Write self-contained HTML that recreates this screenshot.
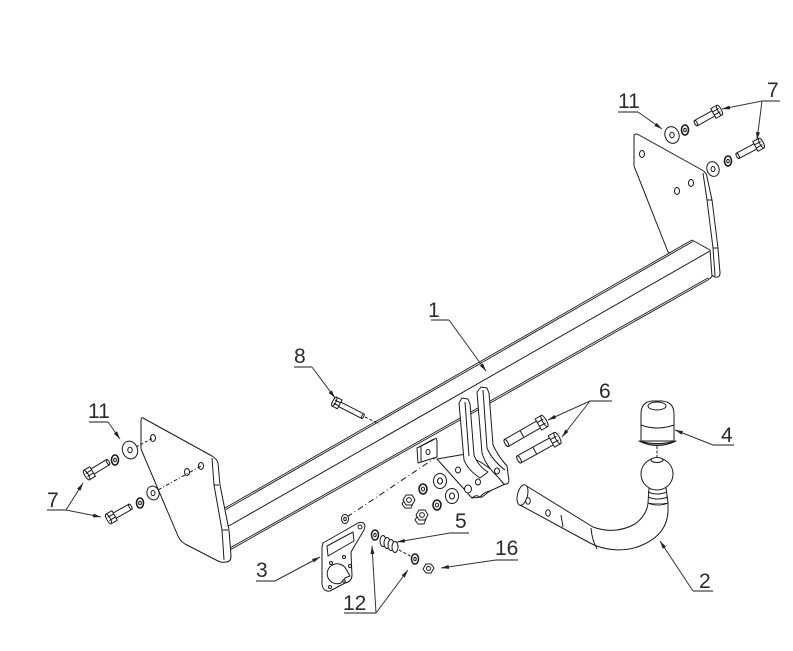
<!DOCTYPE html>
<html><head><meta charset="utf-8">
<style>
html,body{margin:0;padding:0;background:#fff;}
svg{display:block;}
text{font-family:"Liberation Sans",Arial,sans-serif;font-size:21px;fill:#2a2a2a;}
</style></head><body>
<svg width="793" height="651" viewBox="0 0 793 651" xmlns="http://www.w3.org/2000/svg">
<defs>
<marker id="a" markerWidth="8" markerHeight="6" refX="8" refY="3" orient="auto" markerUnits="userSpaceOnUse"><path d="M0,1 L8,3 L0,5 z" fill="#222"/></marker>
</defs>
<rect width="793" height="651" fill="#fff"/>

<g fill="#fff" stroke="#1a1a1a" stroke-width="1" stroke-linejoin="round">
<!-- right bracket -->
<path d="M634,135 Q636,133 639,135 L702,170 Q707,173 707,177 L712,200 L718,248 L720,273 Q720,278 715,277 L668,252 L634,166 Z"/>
<path d="M703,173 L707,200 L713,248 L715,276" fill="none"/>
<path d="M707,200 L712,200 M713,248 L718,248" fill="none"/>
<ellipse cx="642" cy="154" rx="2.5" ry="3.5"/>
<ellipse cx="677" cy="191" rx="2.5" ry="3.5"/>
<ellipse cx="691" cy="183" rx="2.5" ry="3.5"/>

<!-- beam -->
<path d="M225,508 L692,240 L710,250 L712,276 Q711,279 708,279 L230,549 Z" stroke="none"/>
<path d="M225,508 L692,240" fill="none" stroke-width="0.9"/>
<path d="M225.8,509.5 L692.8,241.5" fill="none" stroke-width="0.9"/>
<path d="M227,527 L710,251" fill="none"/>
<path d="M230,548 L708,278" fill="none" stroke-width="0.9"/>
<path d="M230.8,549.5 L708.8,279.5" fill="none" stroke-width="0.9"/>
<path d="M692,240 L710,250 L712,276 Q711,279 708,279" fill="none"/>

<!-- left bracket -->
<path d="M143,418 L212,456 Q217,459 218,463 L220,485 L229,530 L231,556 Q231,562 226,562 Q222,563 218,561 L185,544 Q180,541 178,536 L141,449 L141,421 Q141,417 143,418 Z"/>
<path d="M212,458 L214,485 L222,530 L224,560" fill="none"/>
<path d="M214,485 L219,485 M222,530 L228,530" fill="none"/>
<ellipse cx="153" cy="438" rx="2.5" ry="3.5"/>
<ellipse cx="187" cy="472" rx="2.5" ry="3.5"/>
<ellipse cx="201" cy="466" rx="2.5" ry="3.5"/>

<!-- ball mount flange and fingers -->
<path d="M437,459 L466,454 L482,463 L499,475 L505,484 L490,491 L482,497 L472,498 Z"/>
<path d="M459,403 L462,398 L468,399 L470,404 L474,455 Q478,466 488,472 L480,478 Q468,470 464,460 Z"/>
<path d="M465,402 L469,456" fill="none"/>
<path d="M477,392 L481,387 L487,388 L489,393 L493,445 Q498,456 507,466 L509,481 Q508,485 504,484 L497,476 Q486,466 482,453 Z"/>
<path d="M483,390 L487,448 Q492,460 505,470" fill="none"/>
<ellipse cx="458" cy="470" rx="2.5" ry="3"/>
<ellipse cx="478" cy="482" rx="2.5" ry="3"/>
<ellipse cx="468" cy="489" rx="3.5" ry="4"/>
<ellipse cx="497" cy="471" rx="2.5" ry="3"/>
<path d="M472,498 Q476,494 480,497 Q484,492 490,491" fill="none"/>

<!-- small socket bracket -->
<path d="M417,448 L433,440 L436,438 L437,441 L437,457 L418,463 Z"/>
<path d="M421,446 L421,462 M421,446 L434,439" fill="none"/>
<ellipse cx="428" cy="452" rx="2" ry="2.5"/>

<!-- bolts 6 -->
<g transform="translate(541,423) rotate(150)">
<rect x="2" y="-4" width="38" height="8"/><ellipse cx="40" cy="0" rx="1.5" ry="4"/><path d="M22,-4 L22,4" fill="none"/>
<rect x="-4" y="-6.5" width="7" height="13"/><ellipse cx="-4" cy="0" rx="2" ry="6.5"/><path d="M-4,-2.2 L3,-2.2 M-4,2.2 L3,2.2" fill="none"/>
</g>
<g transform="translate(554,440) rotate(151)">
<rect x="2" y="-4" width="38" height="8"/><ellipse cx="40" cy="0" rx="1.5" ry="4"/><path d="M22,-4 L22,4" fill="none"/>
<rect x="-4" y="-6.5" width="7" height="13"/><ellipse cx="-4" cy="0" rx="2" ry="6.5"/><path d="M-4,-2.2 L3,-2.2 M-4,2.2 L3,2.2" fill="none"/>
</g>

<!-- bolt 8 -->
<g transform="translate(337,403) rotate(27)">
<rect x="2" y="-2.5" width="27" height="5"/><ellipse cx="29" cy="0" rx="1" ry="2.5"/>
<rect x="-3" y="-5" width="6" height="10"/><ellipse cx="-3" cy="0" rx="1.6" ry="5"/><path d="M-3,-1.7 L3,-1.7 M-3,1.7 L3,1.7" fill="none"/>
</g>
<path d="M365,417 L379,424" fill="none" stroke-dasharray="3,2"/>

<!-- nuts and washers for ball mount -->
<polygon points="404,503 407,498 413,498 415,502 413,507 407,507" transform="translate(-2,1)"/>
<polygon points="403,500 406,495 412,495 415,500 412,505 406,505"/>
<circle cx="409" cy="500" r="2.4"/>
<ellipse cx="423" cy="489" rx="4" ry="5" stroke-width="1.6"/><ellipse cx="423" cy="489" rx="1.5" ry="2"/>
<ellipse cx="440" cy="481" rx="6.5" ry="7.5"/><ellipse cx="440" cy="481" rx="2.5" ry="3"/>
<polygon points="417,519 420,514 426,514 428,518 426,523 420,523" transform="translate(-2,1)"/>
<polygon points="416,515 419,510 425,510 428,515 425,520 419,520"/>
<circle cx="422" cy="515" r="2.4"/>
<ellipse cx="437" cy="505" rx="4" ry="5" stroke-width="1.6"/><ellipse cx="437" cy="505" rx="1.5" ry="2"/>
<ellipse cx="452" cy="496" rx="6.5" ry="7.5"/><ellipse cx="452" cy="496" rx="2.5" ry="3"/>
<path d="M347,517 L435,458" fill="none" stroke-dasharray="6,3,1,3"/>

<!-- right fasteners -->
<ellipse cx="672" cy="135" rx="7" ry="8.5" transform="rotate(-20 672 135)"/>
<ellipse cx="672" cy="135" rx="2.2" ry="2.7"/>
<ellipse cx="685" cy="130" rx="3.5" ry="5" stroke-width="1.6"/><ellipse cx="685" cy="130" rx="1.3" ry="1.8"/>
<g transform="translate(716,112) rotate(151)">
<rect x="2" y="-3" width="21" height="6"/><ellipse cx="23" cy="0" rx="1.2" ry="3"/>
<rect x="-4" y="-5.5" width="7" height="11"/><ellipse cx="-4" cy="0" rx="1.8" ry="5.5"/><path d="M-4,-1.8 L3,-1.8 M-4,1.8 L3,1.8" fill="none"/>
</g>
<ellipse cx="713" cy="169" rx="6" ry="7.5" transform="rotate(-20 713 169)"/>
<ellipse cx="713" cy="169" rx="2" ry="2.5"/>
<ellipse cx="728" cy="161" rx="3.5" ry="5" stroke-width="1.6"/><ellipse cx="728" cy="161" rx="1.3" ry="1.8"/>
<g transform="translate(758,145) rotate(152)">
<rect x="2" y="-3" width="21" height="6"/><ellipse cx="23" cy="0" rx="1.2" ry="3"/>
<rect x="-4" y="-5.5" width="7" height="11"/><ellipse cx="-4" cy="0" rx="1.8" ry="5.5"/><path d="M-4,-1.8 L3,-1.8 M-4,1.8 L3,1.8" fill="none"/>
</g>

<!-- left fasteners -->
<path d="M136,447 L153,438" fill="none" stroke-dasharray="3,2"/>
<path d="M158,490 L201,466" fill="none" stroke-dasharray="4,2,1,2"/>
<ellipse cx="130" cy="450" rx="7.5" ry="9" transform="rotate(-20 130 450)"/>
<ellipse cx="130" cy="450" rx="2.2" ry="2.7"/>
<ellipse cx="115" cy="460" rx="3.5" ry="5" stroke-width="1.6"/><ellipse cx="115" cy="460" rx="1.3" ry="1.8"/>
<g transform="translate(90,473) rotate(-31)">
<rect x="2" y="-3" width="19" height="6"/><ellipse cx="21" cy="0" rx="1.2" ry="3"/>
<rect x="-4" y="-5.5" width="7" height="11"/><ellipse cx="-4" cy="0" rx="1.8" ry="5.5"/><path d="M-4,-1.8 L3,-1.8 M-4,1.8 L3,1.8" fill="none"/>
</g>
<ellipse cx="153" cy="493" rx="6" ry="7" transform="rotate(-20 153 493)"/>
<ellipse cx="153" cy="493" rx="2" ry="2.5"/>
<ellipse cx="140" cy="503" rx="3.5" ry="5" stroke-width="1.6"/><ellipse cx="140" cy="503" rx="1.3" ry="1.8"/>
<g transform="translate(112,517) rotate(-29)">
<rect x="2" y="-3" width="19" height="6"/><ellipse cx="21" cy="0" rx="1.2" ry="3"/>
<rect x="-4" y="-5.5" width="7" height="11"/><ellipse cx="-4" cy="0" rx="1.8" ry="5.5"/><path d="M-4,-1.8 L3,-1.8 M-4,1.8 L3,1.8" fill="none"/>
</g>

<!-- plate 3 -->
<path d="M323,543 L358,523 Q364,521 365,526 L364,530 L351,552 L352,576 Q351,582 345,583 L330,591 Q323,592 322,584 L322,547 Z"/>
<path d="M327,546 L353,532 L354,541 L328,556 Z"/>
<path d="M346,569 A10,10 0 1 0 341,583 L345,578 L350,576 Z"/>
<circle cx="331" cy="563" r="1.5"/><circle cx="344" cy="557" r="1.5"/><circle cx="350" cy="566" r="1.5"/>
<circle cx="330" cy="587" r="1.5"/><circle cx="344" cy="581" r="1.3"/><circle cx="360" cy="527" r="2"/>
<ellipse cx="345" cy="519" rx="3.5" ry="4.5"/><ellipse cx="345" cy="519" rx="1.3" ry="1.6"/>

<!-- 12, 5, 16 -->
<ellipse cx="375" cy="535" rx="3.5" ry="5" stroke-width="1.5"/><ellipse cx="375" cy="535" rx="1.2" ry="1.8"/>
<ellipse cx="383" cy="541" rx="3" ry="5.5"/>
<ellipse cx="387" cy="543" rx="3" ry="5.5"/>
<ellipse cx="391" cy="545" rx="3" ry="5.5"/>
<ellipse cx="395" cy="547" rx="3" ry="5.5"/>
<path d="M399,550 L414,558" fill="none" stroke-dasharray="3,2"/>
<ellipse cx="415" cy="559" rx="3.5" ry="5" stroke-width="1.5"/><ellipse cx="415" cy="559" rx="1.2" ry="1.8"/>
<polygon points="423,569 426,564 431,564 434,568 431,573 426,573"/>
<circle cx="428.5" cy="568.5" r="2"/>

<!-- ball bar 2 -->
<path d="M525,485 L593,527 Q615,535 635,524 Q647,515 648,503 L668,503 L668,512 C667,530 655,540 640,546 C625,552 605,551 590,543 L520,505 Z"/>
<ellipse cx="522.5" cy="495" rx="5" ry="10.5" transform="rotate(14 522.5 495)"/>
<path d="M591,528 Q592,540 597,549" fill="none"/>
<ellipse cx="528" cy="501" rx="2.3" ry="3.2"/>
<ellipse cx="548" cy="513" rx="2.3" ry="3.2"/>
<path d="M561,515 L563,527" fill="none"/>
<path d="M648,503 L649,488 L666,488 L668,503" />
<path d="M648,492 Q657,496 667,492 M648,497 Q657,501 668,497 M648,503 Q658,507 668,503" fill="none"/>
<!-- ball -->
<circle cx="657" cy="474" r="16"/>
<ellipse cx="657" cy="460" rx="6" ry="2.5"/>
<path d="M657,446 L657,458" fill="none" stroke-dasharray="3,1.5"/>
<!-- cover 4 -->
<path d="M641,441 L641,414 Q641,402 652,401 L662,401 Q674,402 674,414 L674,441 Z"/>
<ellipse cx="657" cy="406" rx="9" ry="4"/>
<path d="M641,425 Q657,431 674,425" fill="none"/>
<path d="M639,441 Q657,450 676,441 Q657,446 639,441 Z" fill="#999"/>
</g>

<!-- leaders -->
<g stroke="#333" stroke-width="1" fill="none">
<path d="M449,320 L486,371" marker-end="url(#a)"/>
<path d="M312,367 L335,398" marker-end="url(#a)"/>
<path d="M638,112 L662,129" marker-end="url(#a)"/>
<path d="M762,101 L722,109" marker-end="url(#a)"/>
<path d="M762,101 L757,140" marker-end="url(#a)"/>
<path d="M108,422 L120,439" marker-end="url(#a)"/>
<path d="M66,510 L83,483" marker-end="url(#a)"/>
<path d="M66,510 L101,517" marker-end="url(#a)"/>
<path d="M590,401 L548,420" marker-end="url(#a)"/>
<path d="M590,401 L562,437" marker-end="url(#a)"/>
<path d="M713,445 L675,430" marker-end="url(#a)"/>
<path d="M693,591 L660,541" marker-end="url(#a)"/>
<path d="M450,533 L397,542" marker-end="url(#a)"/>
<path d="M496,560 L441,568" marker-end="url(#a)"/>
<path d="M376,613 L372,546" marker-end="url(#a)"/>
<path d="M376,613 L408,570" marker-end="url(#a)"/>
<path d="M275,581 L320,557" marker-end="url(#a)"/>
</g>
<g stroke="#666" stroke-width="1.4">
<line x1="431" y1="320" x2="449" y2="320"/>
<line x1="294" y1="367" x2="312" y2="367"/>
<line x1="618" y1="112" x2="638" y2="112"/>
<line x1="762" y1="101" x2="780" y2="101"/>
<line x1="89" y1="422" x2="108" y2="422"/>
<line x1="47" y1="510" x2="66" y2="510"/>
<line x1="590" y1="401" x2="612" y2="401"/>
<line x1="713" y1="445" x2="734" y2="445"/>
<line x1="693" y1="591" x2="713" y2="591"/>
<line x1="450" y1="533" x2="469" y2="533"/>
<line x1="496" y1="560" x2="518" y2="560"/>
<line x1="344" y1="613" x2="376" y2="613"/>
<line x1="256" y1="581" x2="275" y2="581"/>
</g>

<!-- labels -->
<text x="428" y="317">1</text>
<text x="294" y="363">8</text>
<text x="618" y="108">11</text>
<text x="767" y="97">7</text>
<text x="88" y="418">11</text>
<text x="47" y="507">7</text>
<text x="599" y="398">6</text>
<text x="721" y="442">4</text>
<text x="699" y="588">2</text>
<text x="455" y="528">5</text>
<text x="495" y="555">16</text>
<text x="343" y="610">12</text>
<text x="256" y="577">3</text>
</svg>
</body></html>
